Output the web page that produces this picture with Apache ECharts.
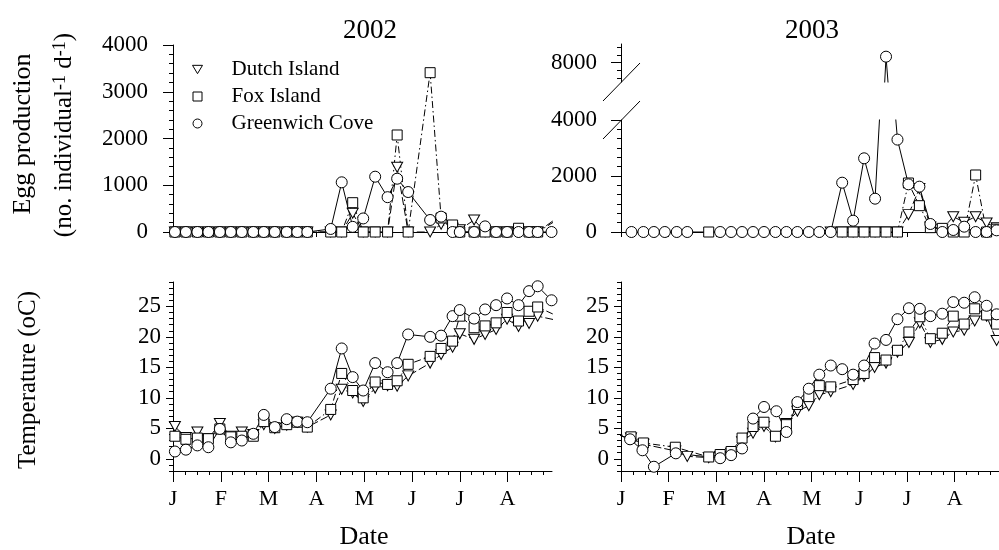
<!DOCTYPE html>
<html>
<head>
<meta charset="utf-8">
<script src="https://cdn.jsdelivr.net/npm/echarts@6/dist/echarts.min.js"></script>
<style>
  html, body { margin: 0; padding: 0; background: #fff; }
  #chart { width: 999px; height: 550px; }
</style>
</head>
<body>
<div id="chart"></div>
<script>
const SERIF = 'Liberation Serif';

// x unit = months since 1 January
const monthTicks = [0, 1, 2, 3, 4, 5, 6, 7];
const monthLabels = ['J', 'F', 'M', 'A', 'M', 'J', 'J', 'A'];
const eggTicks2002 = [0, 1000, 2000, 3000, 4000];
const eggTicks2003 = [0, 2000, 4000];
const eggTicks2003High = [8000];
const tempTicks = [0, 5, 10, 15, 20, 25];

// 2002 sampling dates (last one of the "trail" set lies past the axis end)
const dates2002 = [0.04, 0.27, 0.51, 0.74, 0.98, 1.21, 1.44, 1.68, 1.90, 2.13, 2.38, 2.60, 2.81,
  3.30, 3.53, 3.76, 3.98, 4.23, 4.49, 4.69, 4.92, 5.38, 5.61, 5.85, 6.00, 6.30, 6.53, 6.76, 6.99,
  7.23, 7.45, 7.63, 7.92];
const datesTrail2002 = [0.04, 0.27, 0.51, 0.74, 0.98, 1.21, 1.44, 1.68, 1.90, 2.13, 2.38, 2.60, 2.81,
  3.30, 3.53, 3.76, 3.98, 4.23, 4.49, 4.69, 4.92, 5.38, 5.61, 5.85, 6.00, 6.30, 6.53, 6.76, 6.99,
  7.23, 7.45, 7.63, 8.10];

// egg production 2002
const eggDutch2002 = [0, 0, 0, 0, 0, 0, 0, 0, 0, 0, 0, 0, 0,
  0, 0, 400, 0, 0, 0, 1384, 0, 0, 165, 80, 50, 257, 0, 0, 0, 0, 0, 0, 350];
const eggFox2002 = [0, 0, 0, 0, 0, 0, 0, 0, 0, 0, 0, 0, 0,
  0, 0, 627, 0, 0, 0, 2075, 0, 3408, 300, 150, 0, 0, 0, 0, 0, 80, 0, 0, 300];
const eggGreen2002 = [0, 0, 0, 0, 0, 0, 0, 0, 0, 0, 0, 0, 0,
  65, 1063, 110, 290, 1183, 745, 1140, 855, 257, 328, 0, 0, 0, 120, 0, 0, 0, 0, 0, 0];

// temperature 2002
const tempDutch2002 = [5.3, 3.5, 4.4, 3.3, 5.8, 3.7, 4.4, 4.0, 5.6, 5.0, 5.5, 6.0, 5.2,
  7.2, 11.4, 10.8, 9.4, 11.6, 12.0, 11.9, 13.6, 15.7, 17.1, 18.3, 20.5, 19.6, 20.4, 21.2, 22.9,
  21.7, 22.2, 23.4, 22.6];
const tempFox2002 = [3.7, 3.2, 3.4, 3.3, 4.9, 3.6, 3.7, 3.7, 6.1, 5.1, 5.6, 6.0, 5.2,
  8.1, 14.0, 11.2, 10.0, 12.6, 12.2, 12.8, 15.5, 16.8, 18.1, 19.3, 23.4, 21.5, 21.8, 22.3, 24.0,
  22.6, 24.2, 24.9, 23.2];
const tempGreen2002 = [1.2, 1.5, 2.2, 1.9, 4.9, 2.7, 3.0, 4.1, 7.2, 5.2, 6.5, 6.1, 6.0,
  11.5, 18.1, 13.4, 11.2, 15.7, 14.2, 15.7, 20.4, 20.0, 20.2, 23.4, 24.4, 23.0, 24.5, 25.2, 26.3,
  25.2, 27.5, 28.3, 26.0];

// egg production 2003
const datesDutch03E = [4.40, 4.64, 4.87, 5.10, 5.33, 5.56, 5.80, 6.03, 6.26, 6.49, 6.74, 6.97,
  7.20, 7.44, 7.67, 7.88];
const eggDutch2003 = [0, 0, 0, 0, 0, 0, 0, 620, 1550, 180, 100, 548, 350, 548, 320, 150];
const datesFox03E = [1.84, 4.64, 4.87, 5.10, 5.33, 5.56, 5.80, 6.03, 6.26, 6.49, 6.74, 6.97,
  7.20, 7.44, 7.67, 7.88];
const eggFox2003 = [0, 0, 0, 0, 0, 0, 0, 1750, 940, 155, 130, 0, 0, 2036, 0, 100];
const datesGreen03E = [0.22, 0.47, 0.69, 0.92, 1.17, 1.39, 2.08, 2.31, 2.54, 2.77, 3.00, 3.24,
  3.47, 3.70, 3.94, 4.16, 4.40, 4.64, 4.87, 5.10, 5.33, 5.56, 5.80, 6.03, 6.26, 6.49, 6.74, 6.97,
  7.20, 7.44, 7.67, 7.88];
const eggGreen2003 = [0, 0, 0, 0, 0, 0, 0, 0, 0, 0, 0, 0, 0, 0, 0, 0, 0,
  1761, 404, 2632, 1190, 8200, 3300, 1703, 1619, 286, 0, 71, 190, 0, 0, 60];

// temperature 2003 (first date lies before the axis start)
const datesDutch03T = [-0.2, 0.21, 0.47, 1.14, 1.39, 1.84, 2.08, 2.31, 2.54, 2.77, 3.00, 3.24,
  3.47, 3.70, 3.94, 4.16, 4.40, 4.87, 5.10, 5.32, 5.56, 5.80, 6.04, 6.27, 6.49, 6.74, 6.97, 7.20,
  7.42, 7.67, 7.88];
const tempDutch2003 = [4.0, 3.4, 2.4, 1.3, 0.4, 0.2, 0.4, 0.9, 2.8, 4.2, 5.3, 3.6, 5.8, 7.8, 8.7,
  10.5, 11.0, 12.2, 13.5, 15.0, 15.7, 17.5, 19.1, 22.3, 19.1, 19.6, 20.8, 21.1, 22.6, 23.4, 19.4];
const datesFox03T = [-0.2, 0.21, 0.47, 1.14, 1.84, 2.08, 2.31, 2.54, 2.77, 3.00, 3.24, 3.47,
  3.70, 3.94, 4.16, 4.40, 4.87, 5.10, 5.32, 5.56, 5.80, 6.04, 6.27, 6.49, 6.74, 6.97, 7.20, 7.42,
  7.67, 7.88];
const tempFox2003 = [4.2, 3.6, 2.6, 1.9, 0.3, 0.7, 1.2, 3.4, 5.3, 6.0, 3.7, 5.6, 8.9, 10.2, 12.0,
  11.8, 13.0, 14.0, 16.6, 16.2, 17.8, 20.8, 23.3, 19.7, 20.6, 23.4, 22.1, 24.6, 23.6, 22.1];
const datesGreen03T = [-0.2, 0.19, 0.45, 0.69, 1.15, 2.08, 2.31, 2.54, 2.77, 3.00, 3.26, 3.47,
  3.70, 3.94, 4.16, 4.40, 4.64, 4.87, 5.10, 5.32, 5.56, 5.80, 6.04, 6.27, 6.49, 6.74, 6.97, 7.20,
  7.42, 7.67, 7.88];
const tempGreen2003 = [4.4, 3.2, 1.4, -1.3, 0.9, 0.1, 0.6, 1.7, 6.6, 8.5, 7.8, 4.4, 9.3, 11.5, 13.8,
  15.3, 14.7, 13.8, 15.3, 18.9, 19.5, 22.9, 24.7, 24.6, 23.4, 23.8, 25.7, 25.6, 26.5, 25.1, 23.7];

const X_MAX = 7.93;
const TRI = 'path://M0,0L12,0L6,10Z';
const SQ = 'path://M0,0L10,0L10,10L0,10Z';
const CIRC = 'path://M5,0A5,5,0,1,1,5,10A5,5,0,1,1,5,0Z';

const styles = {
  'Dutch Island': { symbol: TRI, size: [11, 10], dash: [8, 3] },
  'Fox Island': { symbol: 'rect', size: 10, dash: [7, 3, 1.5, 3] },
  'Greenwich Cove': { symbol: 'circle', size: 11, dash: 'solid' }
};

function steps(from, to, step, skip) {
  const out = [];
  for (let v = from; v <= to + 1e-9; v += step) {
    const r = Math.round(v * 1000) / 1000;
    if (!skip.includes(r)) out.push(r);
  }
  return out;
}

function yPair(grid, min, max, ticks, minor, majorLen, margin) {
  return [
    {
      type: 'value', gridIndex: grid, min, max, position: 'left', offset: 0,
      axisLine: { show: true, onZero: false, lineStyle: { color: '#000', width: 1 } },
      axisTick: { show: true, customValues: ticks, length: majorLen, lineStyle: { color: '#000' } },
      axisLabel: { customValues: ticks, margin, fontSize: 23, fontFamily: SERIF, color: '#000',
        formatter: v => String(v) },
      splitLine: { show: false }
    },
    {
      type: 'value', gridIndex: grid, min, max, position: 'left', offset: 0,
      axisLine: { show: false, onZero: false },
      axisTick: { show: true, customValues: minor, length: 4, lineStyle: { color: '#000' } },
      axisLabel: { show: false },
      splitLine: { show: false }
    }
  ];
}

function xTop(grid, show) {
  return {
    type: 'value', gridIndex: grid, min: 0, max: X_MAX, show, position: 'bottom',
    axisLine: { show: true, onZero: false, lineStyle: { color: '#000', width: 1 } },
    axisTick: { show: true, customValues: monthTicks, length: 5, lineStyle: { color: '#000' } },
    axisLabel: { show: false },
    splitLine: { show: false }
  };
}

function xBottom(grid) {
  return [
    {
      type: 'value', gridIndex: grid, min: 0, max: X_MAX, position: 'bottom', offset: 0,
      axisLine: { show: true, onZero: false, lineStyle: { color: '#000', width: 1 } },
      axisTick: { show: true, customValues: monthTicks, length: 11, lineStyle: { color: '#000' } },
      axisLabel: { customValues: monthTicks, margin: 17, fontSize: 22, fontFamily: SERIF, color: '#000',
        formatter: v => monthLabels[monthTicks.indexOf(v)] },
      splitLine: { show: false }
    },
    {
      type: 'value', gridIndex: grid, min: 0, max: X_MAX, position: 'bottom', offset: 0,
      axisLine: { show: false, onZero: false },
      axisTick: { show: true, customValues: steps(0, X_MAX, 0.25, monthTicks), length: 4,
        lineStyle: { color: '#000' } },
      axisLabel: { show: false },
      splitLine: { show: false }
    }
  ];
}

function series(name, xs, ys, xi, yi) {
  const st = styles[name];
  return {
    type: 'line', name, xAxisIndex: xi, yAxisIndex: yi,
    data: xs.map((d, i) => [d, ys[i]]),
    symbol: st.symbol, symbolSize: st.size,
    lineStyle: { color: '#000', width: 1, type: st.dash },
    itemStyle: { color: '#fff', borderColor: '#000', borderWidth: 1 },
    clip: true, animation: false, silent: true,
    emphasis: { disabled: true }
  };
}

const chart = echarts.init(document.getElementById('chart'), null, { renderer: 'canvas' });

const xAxis = [
  xTop(0, true),            // 0: egg 2002
  ...xBottom(1),            // 1,2: temp 2002
  xTop(2, false),           // 3: egg 2003 upper
  xTop(3, true),            // 4: egg 2003 lower
  ...xBottom(4)             // 5,6: temp 2003
];

const yAxis = [
  ...yPair(0, 0, 4000, eggTicks2002, steps(0, 4000, 200, eggTicks2002), 10, 25),
  ...yPair(1, -2, 29, tempTicks, steps(-2, 29, 1, tempTicks), 7, 12),
  ...yPair(2, 7360, 8620, eggTicks2003High, [7500, 7750, 8250, 8500], 10, 24),
  ...yPair(3, 0, 4000, eggTicks2003, steps(0, 4000, 2000 / 6, eggTicks2003), 10, 24),
  ...yPair(4, -2, 29, tempTicks, steps(-2, 29, 1, tempTicks), 7, 12)
];

const option = {
  backgroundColor: '#fff',
  animation: false,
  textStyle: { fontFamily: SERIF, color: '#000' },
  grid: [
    { left: 173, top: 45, width: 379, height: 187 },
    { left: 173, top: 282, width: 379, height: 189 },
    { left: 621, top: 44, width: 378, height: 38 },
    { left: 621, top: 120, width: 378, height: 112 },
    { left: 621, top: 282, width: 378, height: 189 }
  ],
  xAxis,
  yAxis,
  legend: {
    left: 192, top: 56, orient: 'vertical', padding: 0,
    itemWidth: 10, itemHeight: 9, itemGap: 0, symbolKeepAspect: true,
    selectedMode: false,
    data: [
      { name: 'Dutch Island', icon: TRI },
      { name: 'Fox Island', icon: SQ },
      { name: 'Greenwich Cove', icon: CIRC }
    ],
    itemStyle: { color: '#fff', borderColor: '#000', borderWidth: 1 },
    textStyle: { fontFamily: SERIF, fontSize: 21, color: '#000', lineHeight: 27, padding: [0, 0, 0, 24] }
  },
  series: [
    series('Dutch Island', datesTrail2002, eggDutch2002, 0, 0),
    series('Fox Island', datesTrail2002, eggFox2002, 0, 0),
    series('Greenwich Cove', dates2002, eggGreen2002, 0, 0),

    series('Dutch Island', datesTrail2002, tempDutch2002, 1, 2),
    series('Fox Island', datesTrail2002, tempFox2002, 1, 2),
    series('Greenwich Cove', dates2002, tempGreen2002, 1, 2),

    series('Dutch Island', datesDutch03E, eggDutch2003, 3, 4),
    series('Fox Island', datesFox03E, eggFox2003, 3, 4),
    series('Greenwich Cove', datesGreen03E, eggGreen2003, 3, 4),

    series('Dutch Island', datesDutch03E, eggDutch2003, 4, 6),
    series('Fox Island', datesFox03E, eggFox2003, 4, 6),
    series('Greenwich Cove', datesGreen03E, eggGreen2003, 4, 6),

    series('Dutch Island', datesDutch03T, tempDutch2003, 5, 8),
    series('Fox Island', datesFox03T, tempFox2003, 5, 8),
    series('Greenwich Cove', datesGreen03T, tempGreen2003, 5, 8)
  ],
  graphic: [
    { type: 'text', x: 370, y: 31, style: { text: '2002', fontSize: 27, fontFamily: SERIF, fill: '#000',
      align: 'center', verticalAlign: 'middle' } },
    { type: 'text', x: 812, y: 31, style: { text: '2003', fontSize: 27, fontFamily: SERIF, fill: '#000',
      align: 'center', verticalAlign: 'middle' } },
    { type: 'text', x: 364, y: 537, style: { text: 'Date', fontSize: 26, fontFamily: SERIF, fill: '#000',
      align: 'center', verticalAlign: 'middle' } },
    { type: 'text', x: 811, y: 537, style: { text: 'Date', fontSize: 26, fontFamily: SERIF, fill: '#000',
      align: 'center', verticalAlign: 'middle' } },
    { type: 'text', x: 23, y: 134, rotation: Math.PI / 2, style: { text: 'Egg production', fontSize: 26,
      fontFamily: SERIF, fill: '#000', align: 'center', verticalAlign: 'middle' } },
    { type: 'text', x: 64, y: 135, rotation: Math.PI / 2, style: {
      text: '{m|(no. individual}{s|-1}{m| d}{s|-1}{m|)}',
      align: 'center', verticalAlign: 'middle', fill: '#000',
      rich: {
        m: { fontSize: 25, fontFamily: SERIF, lineHeight: 26, verticalAlign: 'bottom', fill: '#000' },
        s: { fontSize: 18, fontFamily: SERIF, lineHeight: 18, padding: [0, 0, 22, 0], verticalAlign: 'top', fill: '#000' }
      } } },
    { type: 'text', x: 28, y: 380, rotation: Math.PI / 2, style: { text: 'Temperature (oC)', fontSize: 25,
      fontFamily: SERIF, fill: '#000', align: 'center', verticalAlign: 'middle' } },
    // axis break marks on the 2003 egg axis
    { type: 'line', shape: { x1: 603, y1: 101, x2: 640, y2: 63 }, style: { stroke: '#000', lineWidth: 1 } },
    { type: 'line', shape: { x1: 603, y1: 139, x2: 640, y2: 101 }, style: { stroke: '#000', lineWidth: 1 } }
  ]
};

chart.setOption(option);
</script>
</body>
</html>
